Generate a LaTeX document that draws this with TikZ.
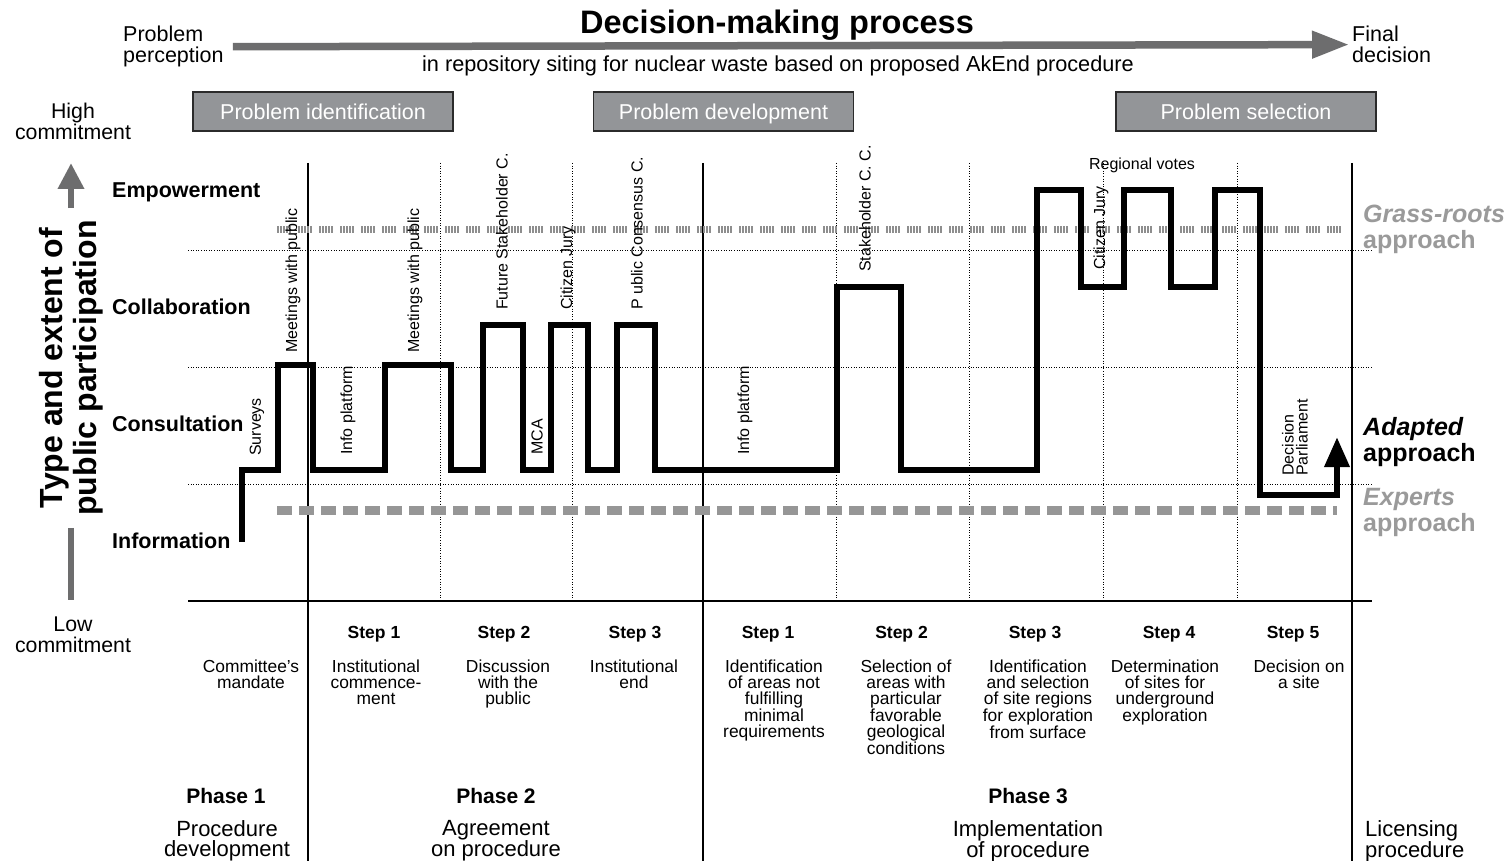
\documentclass[tikz,border=0pt]{standalone}
\usepackage{fontspec}
\setmainfont{Liberation Sans}
\usetikzlibrary{arrows.meta}
\definecolor{arrowgray}{HTML}{6D6D6E}
\definecolor{boxgray}{HTML}{939598}
\definecolor{boxedge}{HTML}{2B2B2B}
\definecolor{dashgray}{HTML}{969696}
\definecolor{stripegray}{HTML}{8E8E8E}
\definecolor{approachgray}{HTML}{9A9A9A}
\newcommand{\fsz}[2]{\fontsize{#1}{#2}\selectfont}

\begin{document}
\begin{tikzpicture}[x=1pt,y=-1pt,
  phasebox/.style={draw=boxedge, line width=1.5pt, fill=boxgray, text=white,
    minimum width=260pt, minimum height=39pt, inner sep=0pt,
    font=\fsz{21.5}{21.5}, text height=15.4pt, text depth=0pt},
  levellab/.style={anchor=base west, inner sep=0pt, font=\bfseries\fsz{21.5}{21.5}},
  rotlab/.style={rotate=90, anchor=west, inner sep=0pt, font=\fsz{16}{14}},
  steplab/.style={anchor=base, inner sep=0pt, font=\bfseries\fsz{17.5}{17.5}},
  stepdesc/.style={anchor=north, inner sep=0pt, align=center, font=\fsz{17.4}{16}},
  phaselab/.style={anchor=base, inner sep=0pt, font=\bfseries\fsz{21}{21}},
  phasedesc/.style={anchor=north, inner sep=0pt, align=center, font=\fsz{22}{20}},
  sidelab/.style={anchor=north, inner sep=0pt, align=center, font=\fsz{21.3}{21}},
  approachlab/.style={anchor=north west, inner sep=0pt, align=left, font=\bfseries\fsz{25}{26}},
  gridline/.style={line width=1pt, dash pattern=on 1pt off 1.6pt},
  divider/.style={line width=1.3pt},
  grassroots/.style={line width=7pt, stripegray,
    dash pattern=on 1.5pt off 1.5pt on 1.5pt off 1.5pt on 1.5pt off 1.5pt on 1.5pt off 1.5pt on 1.5pt off 7.5pt},
  experts/.style={line width=9pt, dashgray, dash pattern=on 15pt off 7pt},
  participation/.style={line width=6.5pt, line join=miter, line cap=butt},
  grayarrow/.style={line width=7.5pt, arrowgray}
]
\useasboundingbox (0,0) rectangle (1512,861);
\fill[white] (0,0) rectangle (1512,861);

% ---------- header ----------
\node[anchor=base, inner sep=0pt, font=\bfseries\fsz{32.5}{32.5}] (title) at (777,34) {Decision-making process};
\node[anchor=base, inner sep=0pt, font=\fsz{21.7}{21.7}] (subtitle) at (778,72)
  {in repository siting for nuclear waste based on proposed AkEnd procedure};
\node[anchor=north west, inner sep=0pt, align=left, font=\fsz{21.5}{21}] (perc) at (123,26) {Problem\\perception};
\node[anchor=north west, inner sep=0pt, align=left, font=\fsz{21.5}{21}] (fin) at (1352,26) {Final\\decision};
\draw[grayarrow, -{Triangle[length=37pt, width=26pt]}, shorten <=9pt, shorten >=3pt] (perc.east) -- (fin.west);

\node[phasebox] (pid) at (323,111.5) {Problem identification};
\node[phasebox] (pdev) at (723.5,111.5) {Problem development};
\node[phasebox] (psel) at (1246,111.5) {Problem selection};

% ---------- vertical axis ----------
\node[sidelab] (high) at (73,103) {High\\commitment};
\node[sidelab] (low) at (73,617) {Low\\commitment};
\node[rotate=90, inner xsep=12pt, inner ysep=0pt, align=center, font=\bfseries\fsz{32}{34}] (ylab) at (71,368)
  {Type and extent of\\public participation};
\coordinate (vtop) at (71,163);
\coordinate (vbot) at (71,600);
\draw[line width=6.5pt, arrowgray, -{Triangle[length=26pt, width=25pt]}] (ylab.east) -- (vtop);
\draw[line width=6.5pt, arrowgray] (ylab.west) -- (vbot);

\node[levellab] (emp) at (112,197.7) {Empowerment};
\node[levellab] (col) at (112,314.7) {Collaboration};
\node[levellab] (con) at (112,431.7) {Consultation};
\node[levellab] (inf) at (112,548.7) {Information};

% ---------- grid ----------
\foreach \yy in {250,367,484} \draw[gridline] (188,\yy) -- (1372,\yy);
\foreach \xx in {440,572,836,969,1103,1237} \draw[gridline] (\xx,163) -- (\xx,601);
\foreach \xx in {308,703,1352} \draw[divider] (\xx,163) -- (\xx,861);
\draw[line width=1.6pt] (188,601) -- (1372,601);

% ---------- reference approaches ----------
\draw[grassroots] (277,229) -- (1341,229);
\draw[experts] (277,510) -- (1337,510);

% ---------- participation path ----------
\draw[participation, -{Triangle[length=30pt, width=24pt]}]
  (242,542) -- (242,470) -- (278,470) -- (278,365) -- (313,365) -- (313,470)
  -- (385,470) -- (385,365) -- (451,365) -- (451,470)
  -- (483,470) -- (483,325) -- (523,325) -- (523,470)
  -- (551,470) -- (551,325) -- (588,325) -- (588,470)
  -- (617,470) -- (617,325) -- (655,325) -- (655,470)
  -- (837,470) -- (837,287) -- (901,287) -- (901,470)
  -- (1037,470) -- (1037,190) -- (1081,190) -- (1081,287)
  -- (1124,287) -- (1124,190) -- (1171,190) -- (1171,287)
  -- (1215,287) -- (1215,190) -- (1260,190) -- (1260,495)
  -- (1337,495) -- (1337,437);

% ---------- method labels ----------
\node[rotlab] (surv) at (257,456) {Surveys};
\node[rotlab] (meet1) at (293,353) {Meetings with public};
\node[rotlab] (info1) at (348,455) {Info platform};
\node[rotlab] (meet2) at (415,353) {Meetings with public};
\node[rotlab] (fsc) at (502,310) {Future Stakeholder C.};
\node[rotlab] (mca) at (537,455) {MCA};
\node[rotlab] (cj1) at (568,310) {Citizen Jury};
\node[rotlab] (pcc) at (637,310) {P ublic Consensus C.};
\node[rotlab] (info2) at (745,455) {Info platform};
\node[rotlab] (scc) at (865,272) {Stakeholder C. C.};
\node[rotlab] (cj2) at (1101,270) {Citizen Jury};
\node[rotlab, align=left] (parl) at (1295,476) {Decision\\Parliament};
\node[anchor=center, inner sep=0pt, font=\fsz{16}{16}] (votes) at (1142,165) {Regional votes};

% ---------- approach labels ----------
\node[approachlab, approachgray] (grl) at (1363,205) {\itshape Grass-roots\\approach};
\node[approachlab] (adl) at (1363,417) {\itshape Adapted\\approach};
\node[approachlab, approachgray] (exl) at (1363,488) {\itshape Experts\\approach};

% ---------- steps ----------
\node[steplab] (s21) at (374,638.3) {Step 1};
\node[steplab] (s22) at (504,638.3) {Step 2};
\node[steplab] (s23) at (635,638.3) {Step 3};
\node[steplab] (s31) at (768,638.3) {Step 1};
\node[steplab] (s32) at (901.5,638.3) {Step 2};
\node[steplab] (s33) at (1035,638.3) {Step 3};
\node[steplab] (s34) at (1169,638.3) {Step 4};
\node[steplab] (s35) at (1293,638.3) {Step 5};

\node[stepdesc] (d1) at (251,659.5) {Committee’s\\mandate};
\node[stepdesc] (d21) at (376,659.5) {Institutional\\commence-\\ment};
\node[stepdesc] (d22) at (508,659.5) {Discussion\\with the\\public};
\node[stepdesc] (d23) at (634,659.5) {Institutional\\end};
\node[stepdesc] (d31) at (774,659.5) {Identification\\of areas not\\fulfilling\\minimal\\requirements};
\node[stepdesc] (d32) at (906,659.5) {Selection of\\areas with\\particular\\favorable\\geological\\conditions};
\node[stepdesc] (d33) at (1038,659.5) {Identification\\and selection\\of site regions\\for exploration\\from surface};
\node[stepdesc] (d34) at (1165,659.5) {Determination\\of sites for\\underground\\exploration};
\node[stepdesc] (d35) at (1299,659.5) {Decision on\\a site};

% ---------- phases ----------
\node[phaselab] (ph1) at (226,803.5) {Phase 1};
\node[phaselab] (ph2) at (496,803.5) {Phase 2};
\node[phaselab] (ph3) at (1028,803.5) {Phase 3};
\node[phasedesc] (pd1) at (227,820) {Procedure\\development};
\node[phasedesc] (pd2) at (496,820) {Agreement\\on procedure};
\node[phasedesc] (pd3) at (1028,820) {Implementation\\of procedure};
\node[phasedesc, anchor=north west, align=left] (pd4) at (1365,820) {Licensing\\procedure};
\end{tikzpicture}
\end{document}
